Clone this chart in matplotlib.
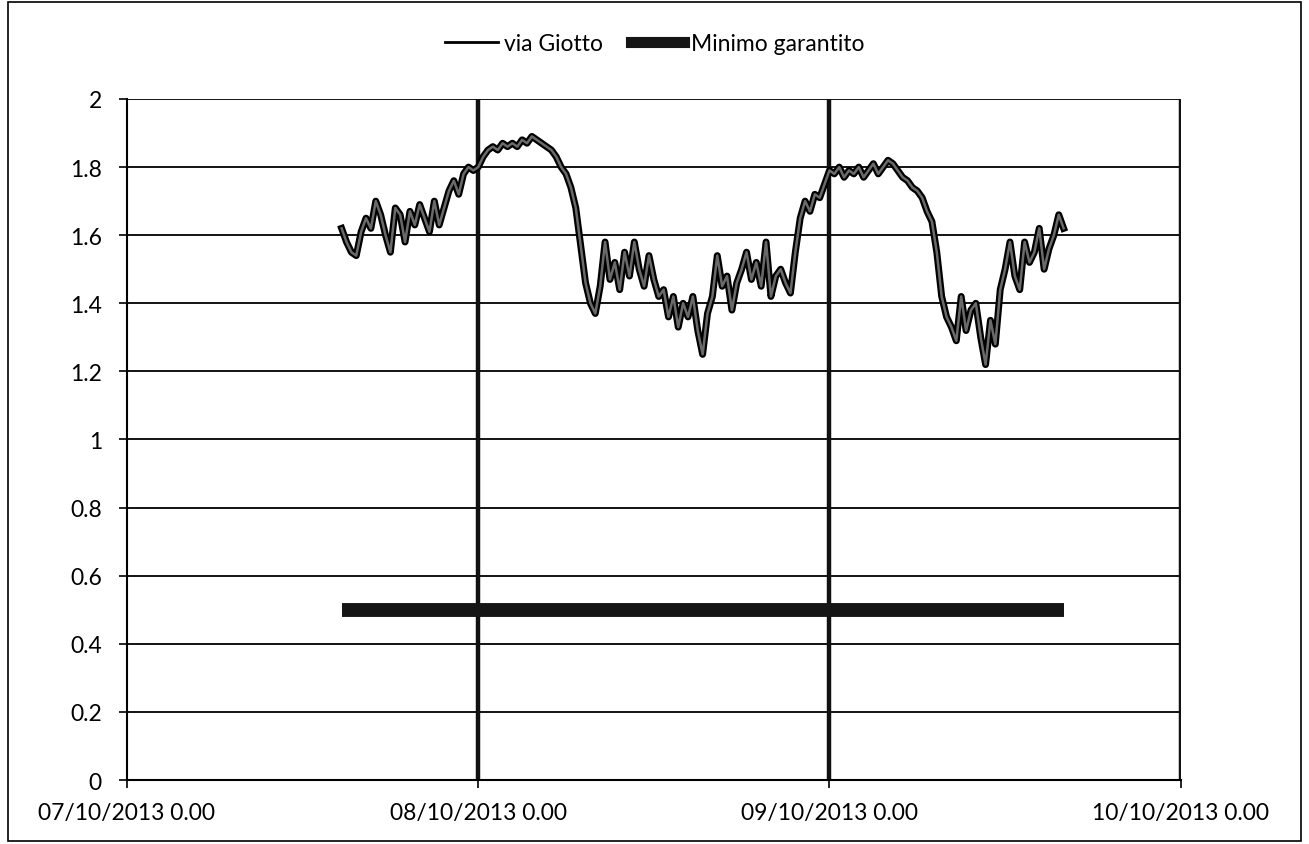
import numpy as np
import matplotlib
matplotlib.use("Agg")
import matplotlib.pyplot as plt
from matplotlib.lines import Line2D
from matplotlib.patches import Rectangle

# ore dalle 07/10/2013 0.00, un campione ogni 20 minuti
ora_inizio = 14 + 40 / 60
ora_fine = 64.0

via_giotto = [
    # 07/10 pomeriggio-sera
    1.62, 1.58, 1.55, 1.54, 1.61, 1.65, 1.62, 1.70, 1.66, 1.60,
    1.55, 1.68, 1.66, 1.58, 1.67, 1.63, 1.69, 1.65, 1.61, 1.70,
    1.63, 1.68, 1.73, 1.76, 1.72, 1.78, 1.80, 1.79, 1.80,
    # 08/10
    1.83, 1.85, 1.86, 1.85, 1.87, 1.86, 1.87, 1.86, 1.88, 1.87,
    1.89, 1.88, 1.87, 1.86, 1.85, 1.83, 1.80, 1.78, 1.74, 1.68,
    1.57, 1.46, 1.40, 1.37, 1.45, 1.58, 1.47, 1.52, 1.44, 1.55,
    1.48, 1.58, 1.50, 1.45, 1.54, 1.47, 1.42, 1.44, 1.36, 1.42,
    1.33, 1.40, 1.36, 1.42, 1.32, 1.25, 1.37, 1.42, 1.54, 1.45,
    1.48, 1.38, 1.46, 1.50, 1.55, 1.47, 1.52, 1.45, 1.58, 1.42,
    1.48, 1.50, 1.46, 1.43, 1.55, 1.65, 1.70, 1.67, 1.72, 1.71,
    1.75, 1.79,
    # 09/10
    1.78, 1.80, 1.77, 1.79, 1.78, 1.80, 1.77, 1.79, 1.81, 1.78,
    1.80, 1.82, 1.81, 1.79, 1.77, 1.76, 1.74, 1.73, 1.71, 1.67,
    1.64, 1.55, 1.42, 1.36, 1.33, 1.29, 1.42, 1.32, 1.38, 1.40,
    1.30, 1.22, 1.35, 1.28, 1.44, 1.50, 1.58, 1.48, 1.44, 1.58,
    1.52, 1.55, 1.62, 1.50, 1.56, 1.60, 1.66, 1.62,
]
minimo_garantito = 0.5

x_ticks = [0, 24, 48, 72]
x_labels = ["07/10/2013 0.00", "08/10/2013 0.00", "09/10/2013 0.00", "10/10/2013 0.00"]
y_ticks = [0, 0.2, 0.4, 0.6, 0.8, 1.0, 1.2, 1.4, 1.6, 1.8, 2.0]
y_labels = ["0", "0.2", "0.4", "0.6", "0.8", "1", "1.2", "1.4", "1.6", "1.8", "2"]

ore = np.linspace(ora_inizio, ora_fine, len(via_giotto))

plt.rcParams["font.family"] = ["Lato", "DejaVu Sans"]

fig = plt.figure(figsize=(13.09, 8.45), dpi=100)
fig.patches.append(Rectangle((0.006, 0.004), 0.988, 0.992, transform=fig.transFigure,
                             fill=False, edgecolor="black", linewidth=1.2))

ax = fig.add_axes([0.097, 0.0757, 0.805, 0.806])

# griglia
for yv in y_ticks[1:]:
    ax.axhline(yv, color="black", linewidth=1.3, zorder=1)
for xv in x_ticks[1:]:
    ax.axvline(xv, color="#111111", linewidth=3.2, zorder=1)

ax.plot([ora_inizio, ora_fine], [minimo_garantito, minimo_garantito],
        color="#151515", linewidth=10, solid_capstyle="butt", zorder=2)

ax.plot(ore, via_giotto, color="black", linewidth=5, zorder=3)
ax.plot(ore, via_giotto, color="#6a6a6a", linewidth=1.8, zorder=4)

ax.set_xlim(0, 72)
ax.set_ylim(0, 2)
ax.set_xticks(x_ticks)
ax.set_xticklabels(x_labels, fontsize=16.5)
ax.set_yticks(y_ticks)
ax.set_yticklabels(y_labels, fontsize=16.5)
ax.tick_params(axis="both", direction="out", length=6, width=1.2, pad=10)
ax.tick_params(axis="y", pad=12)

for side in ["top", "right"]:
    ax.spines[side].set_visible(False)
for side in ["left", "bottom"]:
    ax.spines[side].set_linewidth(1.5)

handles = [
    Line2D([0], [0], color="black", linewidth=2),
    Line2D([0], [0], color="#151515", linewidth=8),
]
fig.legend(handles, ["via Giotto", "Minimo garantito"], loc="center",
           bbox_to_anchor=(0.5, 0.947), ncol=2, frameon=False, fontsize=16.5,
           handlelength=2.3, handletextpad=0.3, columnspacing=1.2)

fig.savefig("out.png", dpi=100)
plt.close()
